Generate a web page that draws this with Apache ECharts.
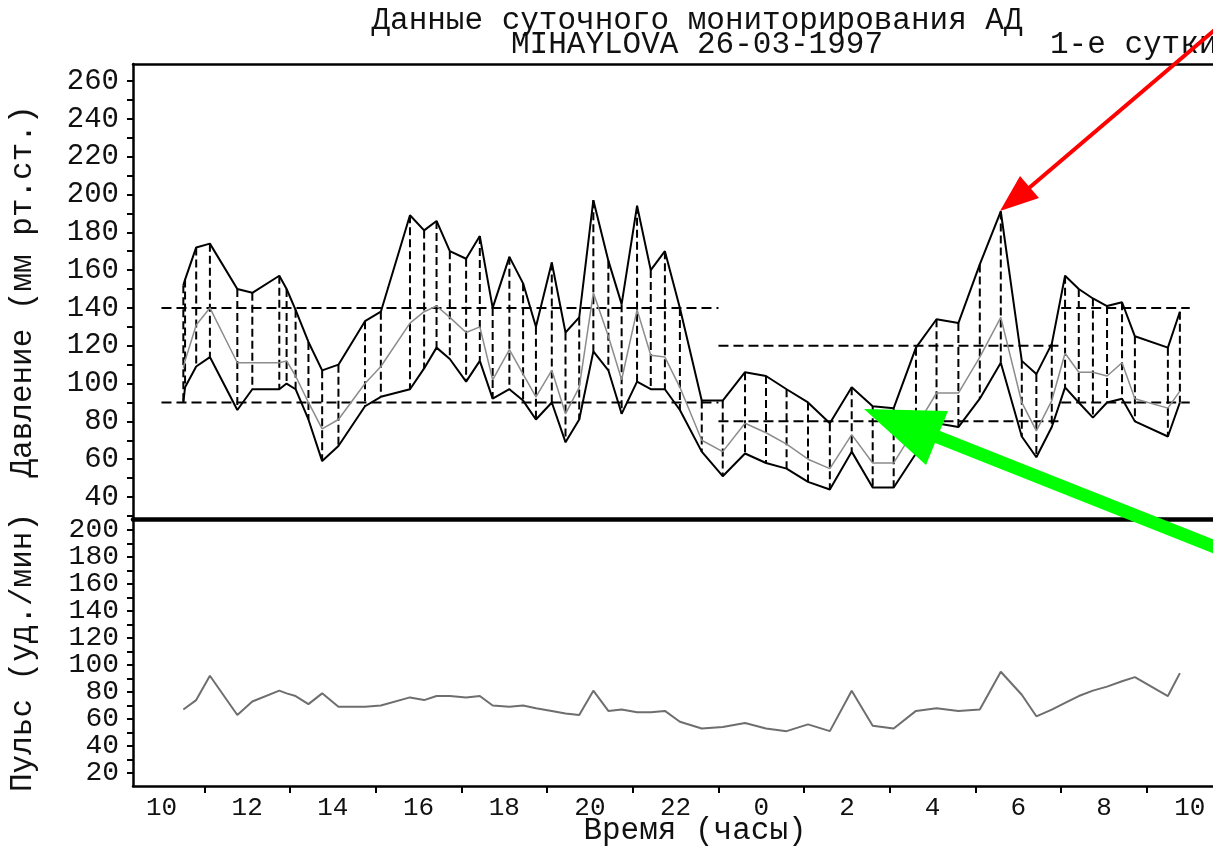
<!DOCTYPE html>
<html><head><meta charset="utf-8">
<script src="https://cdn.jsdelivr.net/npm/echarts@6/dist/echarts.min.js"></script>
<style>html,body{margin:0;padding:0;background:#fff}#c{width:1213px;height:847px}</style>
</head><body><div id="c"></div>
<script>
// measurement times in hours from midnight of day 1 (values > 24 = next day)
const times = [10.51,10.55,10.81,11.13,11.77,12.12,12.75,12.92,13.13,13.43,13.75,14.13,14.75,15.12,15.80,16.13,16.42,16.73,17.11,17.43,17.73,18.12,18.44,18.74,19.11,19.43,19.75,20.08,20.43,20.74,21.10,21.42,21.75,22.10,22.61,23.10,23.62,24.11,24.59,25.09,25.60,26.11,26.60,27.09,27.61,28.09,28.60,29.10,29.59,30.08,30.42,30.78,31.09,31.41,31.74,32.07,32.42,32.72,33.49,33.77];
const systolic = [152,155,172,174,150,148,157,150,139,122,107,110,133,138,189,181,186,170,166,178,140,167,153,130,164,127,135,197,165,142,194,160,170,140,91,91,106,104,97,90,79,98,88,87,119,134,132,163,191,112,105,121,157,150,145,141,143,125,119,138];
const meanBP = [108,112,131,140,111,111,111,112,104,90,76,81,100,109,132,138,141,135,127,130,102,118,105,93,107,84,98,148,125,102,139,115,114,98,70,64,79,74,68,60,55,73,58,58,77,95,95,114,135,90,75,91,116,106,106,104,111,92,87,96];
const diastolic = [90,98,109,114,86,97,97,100,97,81,59,67,88,93,97,108,119,113,101,112,92,97,91,81,90,69,81,117,107,84,101,97,97,86,64,51,63,58,55,48,44,64,45,45,63,79,77,92,111,72,61,77,98,90,82,90,92,80,72,90];
const pulse = [67,68,74,92,63,73,81,79,77,71,79,69,69,70,76,74,77,77,76,77,70,69,70,68,66,64,63,81,66,67,65,65,66,58,53,54,57,53,51,56,51,81,55,53,66,68,66,67,95,78,62,67,72,77,81,84,88,91,77,94];
// norm limits: [start hour, end hour, upper, lower]
const refStart = [10, 23, 31];
const refEnd = [23, 31, 34];
const refUpper = [140, 120, 140];
const refLower = [90, 80, 90];
const xLabelHours = [10,12,14,16,18,20,22,24,26,28,30,32,34];
const xTickHours = [11,13,15,17,19,21,23,25,27,29,31,33];
const bpLabels = [40,60,80,100,120,140,160,180,200,220,240,260];
const bpTicks = [30,40,50,60,70,80,90,100,110,120,130,140,150,160,170,180,190,200,210,220,230,240,250,260];
const pulseLabelsA = [20,60,100,140,180];
const pulseLabelsB = [40,80,120,160,200];
const pulseTicks = [20,30,40,50,60,70,80,90,100,110,120,130,140,150,160,170,180,190,200];

const FF = '"Liberation Mono", "DejaVu Sans Mono", monospace';
const INK = '#111';
const X_MIN = 9.335, X_MAX = 35.57;
const P_MIN = 10.37, P_MAX = 208.15;

const chart = echarts.init(document.getElementById('c'), null, {renderer: 'canvas'});

const hiddenX = (grid, pos, w) => ({
  type: 'value', gridIndex: grid, position: pos, min: X_MIN, max: X_MAX,
  axisLine: {show: true, onZero: false, lineStyle: {color: '#000', width: w}},
  axisTick: {show: false}, axisLabel: {show: false}, splitLine: {show: false}
});

const option = {
  backgroundColor: '#fff',
  animation: false,
  grid: [
    {left: 133, width: 1124, top: 64, height: 455, containLabel: false, outerBoundsMode: 'none'},
    {left: 133, width: 1124, top: 519, height: 267, containLabel: false, outerBoundsMode: 'none'}
  ],
  xAxis: [
    hiddenX(0, 'bottom', 4.5),
    hiddenX(0, 'top', 2.5),
    {
      type: 'value', gridIndex: 1, position: 'bottom', min: X_MIN, max: X_MAX,
      axisLine: {show: true, onZero: false, lineStyle: {color: '#000', width: 2.5}},
      axisTick: {show: true, customValues: xTickHours, length: 7, lineStyle: {color: '#000', width: 2}},
      axisLabel: {show: true, customValues: xLabelHours, margin: 9, showMinLabel: true, showMaxLabel: true,
        formatter: v => String(((Math.round(v) % 24) + 24) % 24),
        fontFamily: FF, fontSize: 26, color: INK},
      splitLine: {show: false},
      name: 'Время (часы)', nameLocation: 'middle', nameGap: 29, nameMoveOverlap: false,
      nameTextStyle: {fontFamily: FF, fontSize: 31, color: INK}
    }
  ],
  yAxis: [
    {
      type: 'value', gridIndex: 0, min: 28.37, max: 269,
      axisLine: {show: true, onZero: false, lineStyle: {color: '#000', width: 2.5}},
      axisTick: {show: true, customValues: bpTicks, length: 6, lineStyle: {color: '#000', width: 2}},
      axisLabel: {show: true, customValues: bpLabels, margin: 14, showMinLabel: true, showMaxLabel: true,
        hideOverlap: false, fontFamily: FF, fontSize: 29, lineHeight: 18, color: INK},
      splitLine: {show: false},
      name: 'Давление (мм рт.ст.)', nameLocation: 'middle', nameRotate: 90, nameGap: 95, nameMoveOverlap: false,
      nameTextStyle: {fontFamily: FF, fontSize: 31, color: INK}
    },
    {
      type: 'value', gridIndex: 1, min: P_MIN, max: P_MAX,
      axisLine: {show: true, onZero: false, lineStyle: {color: '#000', width: 2.5}},
      axisTick: {show: true, customValues: pulseTicks, length: 6, lineStyle: {color: '#000', width: 2}},
      axisLabel: {show: true, customValues: pulseLabelsA, margin: 14, showMinLabel: true, showMaxLabel: true,
        hideOverlap: false, fontFamily: FF, fontSize: 28, color: INK},
      splitLine: {show: false},
      name: 'Пульс (уд./мин)', nameLocation: 'middle', nameRotate: 90, nameGap: 95, nameMoveOverlap: false,
      nameTextStyle: {fontFamily: FF, fontSize: 31, color: INK}
    },
    {
      type: 'value', gridIndex: 1, position: 'left', offset: 0, min: P_MIN, max: P_MAX,
      axisLine: {show: false}, axisTick: {show: false},
      axisLabel: {show: true, customValues: pulseLabelsB, margin: 14, showMinLabel: true, showMaxLabel: true,
        hideOverlap: false, fontFamily: FF, fontSize: 28, color: INK},
      splitLine: {show: false}
    }
  ],
  series: [
    {
      name: 'Норма', type: 'custom', xAxisIndex: 0, yAxisIndex: 0, z: 2,
      data: refStart.map((s, i) => [s, refEnd[i], refUpper[i], refLower[i]]),
      encode: {x: [0, 1], y: [2, 3]},
      renderItem: (params, api) => {
        const a = api.coord([api.value(0), api.value(2)]);
        const b = api.coord([api.value(1), api.value(2)]);
        const c = api.coord([api.value(0), api.value(3)]);
        const d = api.coord([api.value(1), api.value(3)]);
        const st = {stroke: '#000', lineWidth: 2, lineDash: [10, 5], fill: null};
        return {type: 'group', children: [
          {type: 'line', shape: {x1: a[0], y1: a[1], x2: b[0], y2: b[1]}, style: st},
          {type: 'line', shape: {x1: c[0], y1: c[1], x2: d[0], y2: d[1]}, style: st}
        ]};
      }
    },
    {
      name: 'Размах', type: 'custom', xAxisIndex: 0, yAxisIndex: 0, z: 3,
      data: times.map((t, i) => [t, systolic[i], diastolic[i]]),
      encode: {x: 0, y: [1, 2]},
      renderItem: (params, api) => {
        const p1 = api.coord([api.value(0), api.value(1)]);
        const p2 = api.coord([api.value(0), api.value(2)]);
        return {type: 'line', shape: {x1: p1[0], y1: p1[1], x2: p2[0], y2: p2[1]},
          style: {stroke: '#000', lineWidth: 2, lineDash: [8, 4], fill: null}};
      }
    },
    {
      name: 'САД', type: 'line', xAxisIndex: 0, yAxisIndex: 0, z: 4,
      data: times.map((t, i) => [t, systolic[i]]),
      showSymbol: false, lineStyle: {color: '#000', width: 2}
    },
    {
      name: 'ДАД', type: 'line', xAxisIndex: 0, yAxisIndex: 0, z: 4,
      data: times.map((t, i) => [t, diastolic[i]]),
      showSymbol: false, lineStyle: {color: '#000', width: 2}
    },
    {
      name: 'Среднее', type: 'line', xAxisIndex: 0, yAxisIndex: 0, z: 4,
      data: times.map((t, i) => [t, meanBP[i]]),
      showSymbol: false, lineStyle: {color: '#8c8c8c', width: 1.5}
    },
    {
      name: 'Пульс', type: 'line', xAxisIndex: 2, yAxisIndex: 1, z: 4,
      data: times.map((t, i) => [t, pulse[i]]),
      showSymbol: false, lineStyle: {color: '#6e6e6e', width: 2}
    }
  ],
  graphic: [
    {type: 'text', x: 697, y: 21, z: 10, style: {text: 'Данные суточного мониторирования АД', font: '31px ' + FF, fill: INK, align: 'center', verticalAlign: 'middle'}},
    {type: 'text', x: 697, y: 45, z: 10, style: {text: 'MIHAYLOVA 26-03-1997', font: '31px ' + FF, fill: INK, align: 'center', verticalAlign: 'middle'}},
    {type: 'text', x: 1050, y: 45, z: 10, style: {text: '1-е сутки', font: '31px ' + FF, fill: INK, align: 'left', verticalAlign: 'middle'}},
    // red arrow
    {type: 'line', z: 20, shape: {x1: 1029, y1: 188, x2: 1250, y2: 0}, style: {stroke: '#ff0000', lineWidth: 4}},
    {type: 'polygon', z: 20, shape: {points: [[1000, 211], [1020, 176], [1039, 198]]}, style: {fill: '#ff0000'}},
    // green arrow
    {type: 'line', z: 20, shape: {x1: 920, y1: 430, x2: 1240, y2: 557}, style: {stroke: '#00ff00', lineWidth: 13}},
    {type: 'polygon', z: 20, shape: {points: [[864, 409], [948, 411], [926, 465]]}, style: {fill: '#00ff00'}}
  ]
};
chart.setOption(option);
</script>
</body></html>
